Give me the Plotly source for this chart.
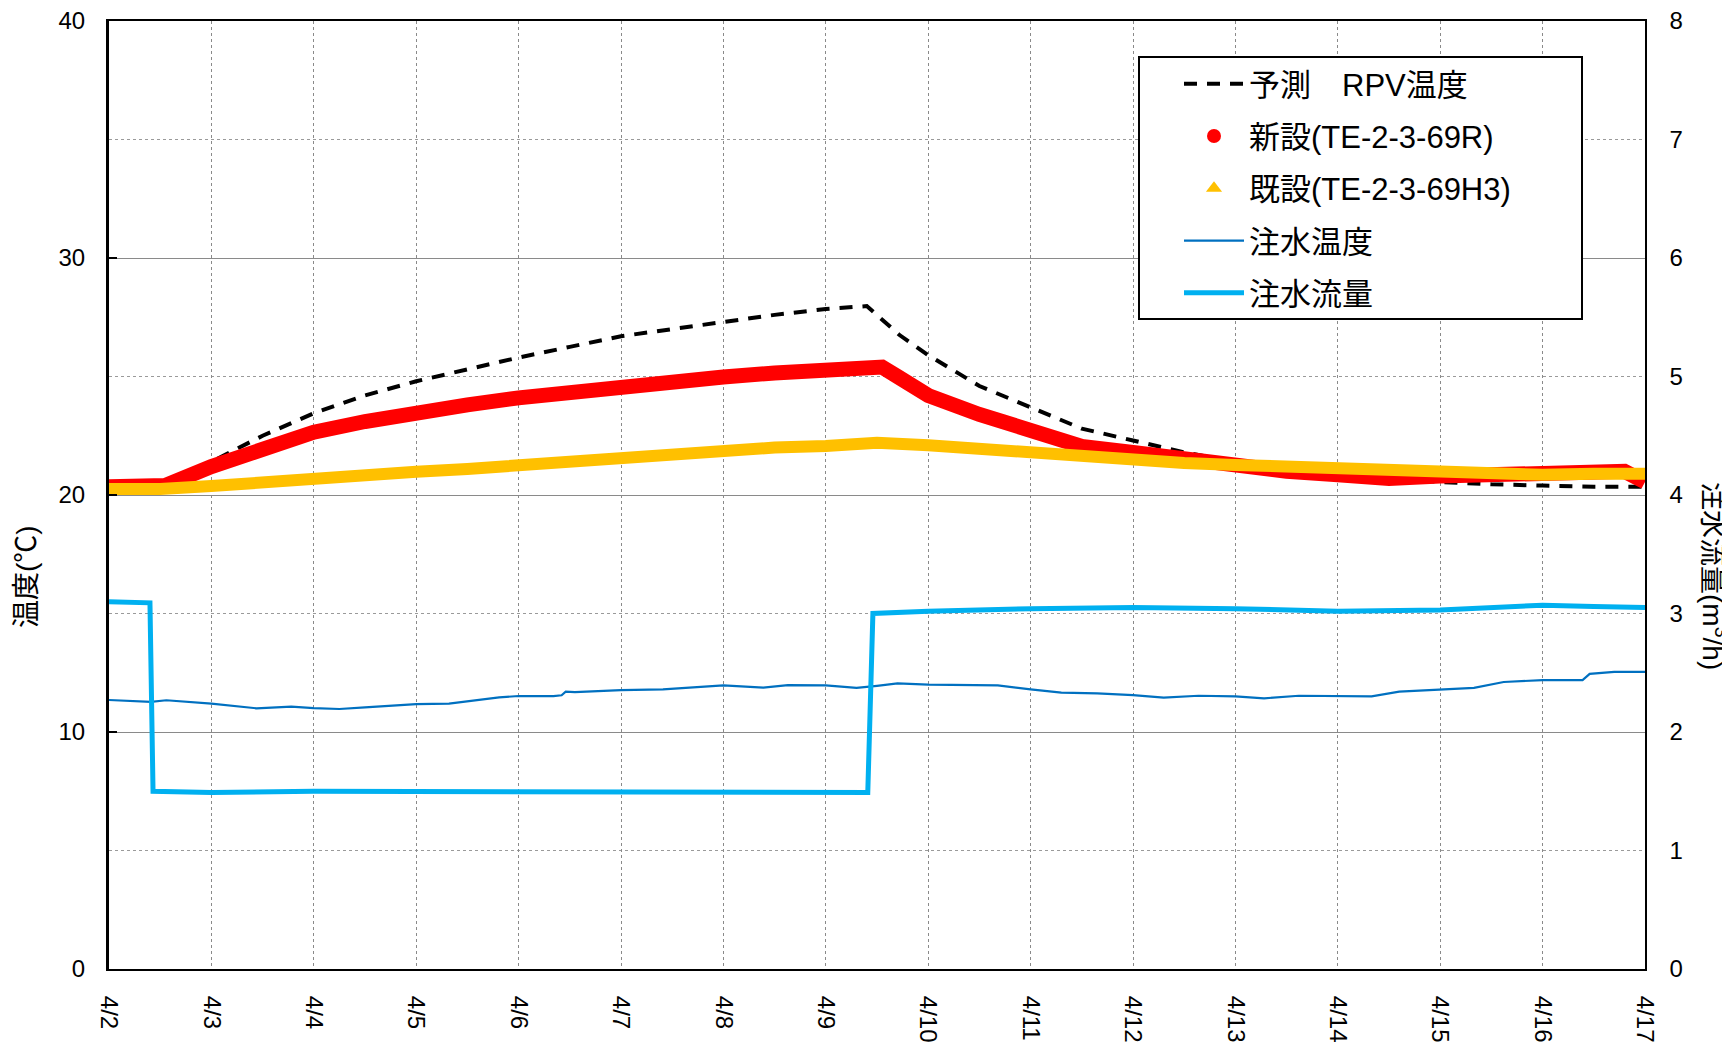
import plotly.graph_objects as go

# ---------------- data (day of April) ----------------
pred_day = [2.0, 2.55, 3.0, 3.5, 4.0, 4.5, 5.0, 5.5, 6.0, 6.5, 7.0, 7.5, 8.0, 8.5, 9.0, 9.4,
            9.72, 10.0, 10.5, 11.0, 11.5, 12.0, 12.5, 13.0, 13.5, 14.0, 14.5, 15.0, 15.5, 16.0, 16.5, 17.0]
pred_temp = [20.3, 20.4, 21.4, 22.5, 23.45, 24.2, 24.8, 25.3, 25.8, 26.25, 26.7, 27.0, 27.3, 27.6, 27.85, 27.97,
             26.75, 25.9, 24.6, 23.7, 22.8, 22.3, 21.8, 21.4, 21.1, 20.9, 20.7, 20.55, 20.45, 20.4, 20.35, 20.35]

new_day = [2.0, 2.3, 2.55, 3.0, 3.5, 4.0, 4.5, 5.0, 5.5, 6.0, 6.5, 7.0, 7.5, 8.0, 8.5, 9.0, 9.14, 9.55,
           9.7, 10.0, 10.5, 11.0, 11.5, 12.0, 12.5, 13.0, 13.5, 14.0, 14.5, 15.0, 15.5, 16.0, 16.5, 16.8, 17.0]
new_temp = [20.35, 20.3, 20.4, 21.2, 21.95, 22.65, 23.1, 23.5, 23.8, 24.1, 24.35, 24.57, 24.8, 24.98, 25.15, 25.27,
            25.4, 25.4, 25.0, 24.2, 23.4, 22.75, 22.05, 21.8, 21.5, 21.2, 21.0, 20.85, 20.7, 20.8, 20.85, 20.9,
            21.05, 21.0, 20.55]

old_day = [2.0, 2.5, 3.0, 3.5, 4.0, 4.5, 5.0, 5.5, 6.0, 6.5, 7.0, 7.5, 8.0, 8.5, 9.0, 9.5,
           10.0, 10.5, 11.0, 11.5, 12.0, 12.5, 13.0, 13.5, 14.0, 14.5, 15.0, 15.5, 16.0, 16.5, 17.0]
old_temp = [20.25, 20.25, 20.38, 20.55, 20.7, 20.85, 20.98, 21.1, 21.25, 21.45, 21.65, 21.8, 21.9, 22.0, 22.07, 22.2,
            22.1, 21.95, 21.8, 21.6, 21.4, 21.35, 21.27, 21.2, 21.05, 21.0, 20.9, 20.9, 20.85, 20.9, 20.9]

inj_day = [2.0, 2.41, 2.56, 3.0, 3.44, 3.78, 4.0, 4.25, 4.5, 5.0, 5.32, 5.81, 6.0, 6.34, 6.42, 6.46, 6.55, 7.0,
           7.41, 8.0, 8.39, 8.63, 9.0, 9.3, 9.5, 9.7, 10.0, 10.68, 11.0, 11.3, 11.65, 12.0, 12.3, 12.64, 13.0,
           13.28, 13.62, 14.0, 14.33, 14.6, 15.0, 15.33, 15.62, 16.0, 16.39, 16.46, 16.7, 17.0]
inj_temp = [11.35, 11.27, 11.34, 11.2, 11.0, 11.07, 11.01, 10.97, 11.04, 11.18, 11.2, 11.46, 11.52, 11.51, 11.55,
            11.7, 11.68, 11.77, 11.8, 11.97, 11.87, 11.98, 11.97, 11.86, 11.95, 12.05, 12.0, 11.97, 11.8, 11.66,
            11.63, 11.56, 11.45, 11.53, 11.5, 11.42, 11.53, 11.52, 11.5, 11.7, 11.8, 11.86, 12.11, 12.19, 12.19,
            12.45, 12.54, 12.54]

flow_day = [2.0, 2.2, 2.4, 2.43, 3.0, 4.0, 5.0, 6.0, 7.0, 8.0, 9.0, 9.41, 9.46, 10.0, 11.0, 12.0, 13.0,
            14.0, 15.0, 16.0, 16.5, 17.0]
flow_rate = [3.1, 3.09, 3.09, 1.5, 1.49, 1.5, 1.5, 1.5, 1.5, 1.49, 1.49, 1.49, 3.0, 3.02, 3.04, 3.05, 3.04,
             3.02, 3.03, 3.07, 3.06, 3.05]

tick_days = list(range(2, 18))
tick_text = [f"4/{d}" for d in tick_days]
left_ticks = [0, 10, 20, 30, 40]
right_ticks = [0, 1, 2, 3, 4, 5, 6, 7, 8]

names = ["予測\u3000RPV温度", "新設(TE-2-3-69R)", "既設(TE-2-3-69H3)", "注水温度", "注水流量"]

FONT = "Liberation Sans, Arial, Noto Sans CJK JP, sans-serif"
RED = "#FF0000"
YEL = "#FFC000"
INJ = "#0070C0"
FLOW = "#00B0F0"

# plot area (reference screen pixels); page body adds an 8px offset
W, H = 1730, 1046
OFF = 8
L, R, T, B = 109, 1645, 21, 969


def px(x):
    return (x - L) / (R - L)


def py(y):
    return (B - y) / (B - T)


fig = go.Figure()

fig.add_trace(go.Scatter(x=pred_day, y=pred_temp, mode="lines", name=names[0], legendgroup="g0",
                         line=dict(color="black", width=4, dash="13px,10px")))
fig.add_trace(go.Scatter(x=new_day, y=new_temp, mode="lines", showlegend=False,
                         line=dict(color=RED, width=15)))
fig.add_trace(go.Scatter(x=[None], y=[None], mode="markers", name=names[1], legendgroup="g1",
                         marker=dict(color=RED, size=14, symbol="circle")))
fig.add_trace(go.Scatter(x=old_day, y=old_temp, mode="lines", showlegend=False,
                         line=dict(color=YEL, width=12)))
fig.add_trace(go.Scatter(x=[None], y=[None], mode="markers", name=names[2], legendgroup="g2",
                         marker=dict(color=YEL, size=14, symbol="triangle-up")))
fig.add_trace(go.Scatter(x=inj_day, y=inj_temp, mode="lines", name=names[3], legendgroup="g3",
                         line=dict(color=INJ, width=2.2)))
fig.add_trace(go.Scatter(x=flow_day, y=flow_rate, mode="lines", name=names[4], legendgroup="g4",
                         yaxis="y2", line=dict(color=FLOW, width=5)))

fig.update_layout(
    template="none",
    width=W, height=H,
    margin=dict(l=L - OFF, r=W - R + OFF, t=T - OFF, b=H - B + OFF, pad=0),
    plot_bgcolor="white", paper_bgcolor="white",
    font=dict(family=FONT, size=24, color="black"),
    showlegend=True,
    legend=dict(x=px(1179), y=py(57), xanchor="left", yanchor="top",
                bgcolor="rgba(0,0,0,0)", borderwidth=0,
                font=dict(family=FONT, size=31, color="black"),
                traceorder="grouped", tracegroupgap=9, itemwidth=60),
    xaxis=dict(range=[2, 17], tickmode="array", tickvals=tick_days, ticktext=tick_text,
               tickangle=90, ticks="", showgrid=True, gridcolor="#8a8a8a", gridwidth=1, griddash="dot",
               showline=True, linecolor="black", linewidth=2, mirror=True, zeroline=False,
               automargin=False, ticklabelstandoff=20, ticklabeloverflow="allow", tickfont=dict(size=24)),
    yaxis=dict(range=[0, 40], tickmode="array", tickvals=left_ticks, ticks="inside", ticklen=8,
               tickwidth=2, tickcolor="black", showgrid=True, gridcolor="#8a8a8a", gridwidth=1,
               minor=dict(dtick=5, tick0=0, showgrid=True, gridcolor="#9a9a9a", griddash="dot", gridwidth=1),
               showline=True, linecolor="black", linewidth=3, zeroline=False, automargin=False,
               ticklabelstandoff=16, ticklabeloverflow="allow", tickfont=dict(size=24)),
    yaxis2=dict(range=[0, 8], tickmode="array", tickvals=right_ticks, overlaying="y", side="right",
                showgrid=False, ticks="", showline=True, linecolor="black", linewidth=1.5,
                zeroline=False, automargin=False, ticklabelstandoff=18, ticklabeloverflow="allow",
                tickfont=dict(size=24)),
    shapes=[dict(type="rect", xref="paper", yref="paper", x0=px(1139), x1=px(1582), y0=py(319), y1=py(57),
                 line=dict(color="black", width=2), fillcolor="white", layer="above")],
    annotations=[
        dict(text="温度(℃)", xref="paper", yref="paper", x=px(26), y=py(577), showarrow=False,
             textangle=-90, font=dict(size=28, family=FONT), xanchor="center", yanchor="middle"),
        dict(text="注水流量(m<sup>3</sup>/h)", xref="paper", yref="paper", x=px(1715), y=py(576),
             showarrow=False, textangle=90, font=dict(size=28, family=FONT), xanchor="center",
             yanchor="middle"),
    ],
)

fig.write_html("out.html")
